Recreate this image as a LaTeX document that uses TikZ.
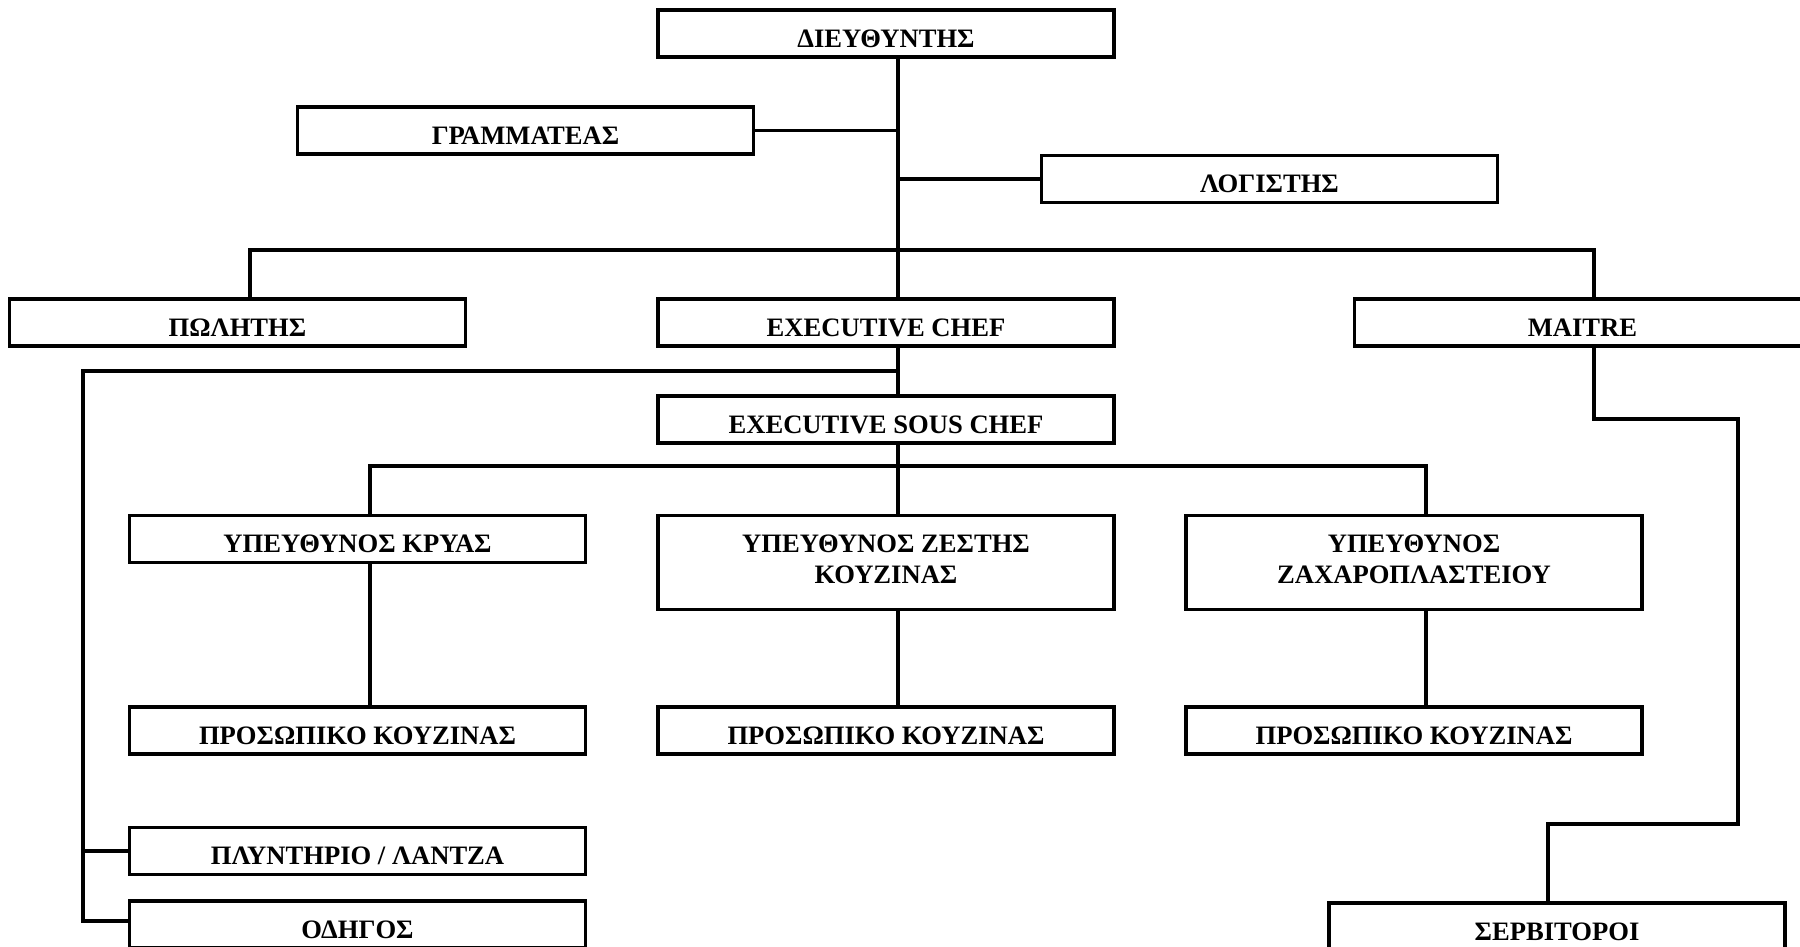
\documentclass[tikz,border=0pt]{standalone}
\usepackage{fontspec}
\setmainfont{Liberation Serif}
\begin{document}
\begin{tikzpicture}[x=0.5pt,y=-0.5pt,
  box/.style={draw=black,line width=1.8pt,fill=white,minimum width=228pt,minimum height=23.5pt,inner sep=0pt,text height=13.8pt,text depth=0pt,font=\bfseries\fontsize{13.3}{15.5}\selectfont},
  tall/.style={draw=black,line width=1.8pt,fill=white,minimum width=228pt,minimum height=47pt,inner sep=0pt,align=center,text depth=3.6pt,font=\bfseries\fontsize{13.3}{15.5}\selectfont},
  conn/.style={line width=1.6pt,line cap=rect}]
\useasboundingbox (0,0) rectangle (1800,947);
\clip (0,0) rectangle (1800,947);
% connector points
\coordinate (tx) at (898,0);
\coordinate (polx) at (250,250);
\coordinate (mx) at (1594,250);
\coordinate (m1) at (1594,419);
\coordinate (m2) at (1738,419);
\coordinate (m3) at (1738,824);
\coordinate (m4) at (1548,824);
\coordinate (lb) at (898,371);
\coordinate (lx) at (83,371);
\coordinate (lp) at (83,851);
\coordinate (lo) at (83,921);
\coordinate (b2l) at (370,466);
\coordinate (b2m) at (898,466);
\coordinate (b2r) at (1426,466);
% nodes
\node[box] (dir) at (886,33.5) {ΔΙΕΥΘΥΝΤΗΣ};
\node[box] (gram) at (525.5,130.5) {ΓΡΑΜΜΑΤΕΑΣ};
\node[box] (log) at (1269.5,179) {ΛΟΓΙΣΤΗΣ};
\node[box] (pol) at (237.5,322.5) {ΠΩΛΗΤΗΣ};
\node[box] (exec) at (886,322.5) {EXECUTIVE CHEF};
\node[box] (mai) at (1582.5,322.5) {MAITRE};
\node[box] (sous) at (886,419.5) {EXECUTIVE SOUS CHEF};
\node[box] (kry) at (357.5,539) {ΥΠΕΥΘΥΝΟΣ ΚΡΥΑΣ};
\node[tall] (zest) at (886,562.5) {ΥΠΕΥΘΥΝΟΣ ΖΕΣΤΗΣ\\ΚΟΥΖΙΝΑΣ};
\node[tall] (zax) at (1414,562.5) {ΥΠΕΥΘΥΝΟΣ\\ΖΑΧΑΡΟΠΛΑΣΤΕΙΟΥ};
\node[box] (p1) at (357.5,730.5) {ΠΡΟΣΩΠΙΚΟ ΚΟΥΖΙΝΑΣ};
\node[box] (p2) at (886,730.5) {ΠΡΟΣΩΠΙΚΟ ΚΟΥΖΙΝΑΣ};
\node[box] (p3) at (1414,730.5) {ΠΡΟΣΩΠΙΚΟ ΚΟΥΖΙΝΑΣ};
\node[box] (plyn) at (357.5,851) {ΠΛΥΝΤΗΡΙΟ / ΛΑΝΤΖΑ};
\node[box] (odig) at (357.5,924.5) {ΟΔΗΓΟΣ};
\node[box] (serv) at (1557,926.5) {ΣΕΡΒΙΤΟΡΟΙ};
% lines
\draw[conn] (dir.south -| tx) -- (exec.north -| tx);
\draw[conn] (gram.east) -- (gram.east -| tx);
\draw[conn] (log.west) -- (log.west -| tx);
\draw[conn] (polx |- pol.north) -- (polx) -- (mx) -- (mx |- mai.north);
\draw[conn] (mx |- mai.south) -- (m1) -- (m2) -- (m3) -- (m4) -- (m4 |- serv.north);
\draw[conn] (exec.south -| tx) -- (sous.north -| tx);
\draw[conn] (lb) -- (lx) -- (lo) -- (lo -| odig.west);
\draw[conn] (lp) -- (lp -| plyn.west);
\draw[conn] (sous.south -| tx) -- (b2m) -- (zest.north -| tx);
\draw[conn] (b2l |- kry.north) -- (b2l) -- (b2r) -- (b2r |- zax.north);
\draw[conn] (kry.south -| b2l) -- (p1.north -| b2l);
\draw[conn] (zest.south -| tx) -- (p2.north -| tx);
\draw[conn] (zax.south -| b2r) -- (p3.north -| b2r);
\end{tikzpicture}
\end{document}
